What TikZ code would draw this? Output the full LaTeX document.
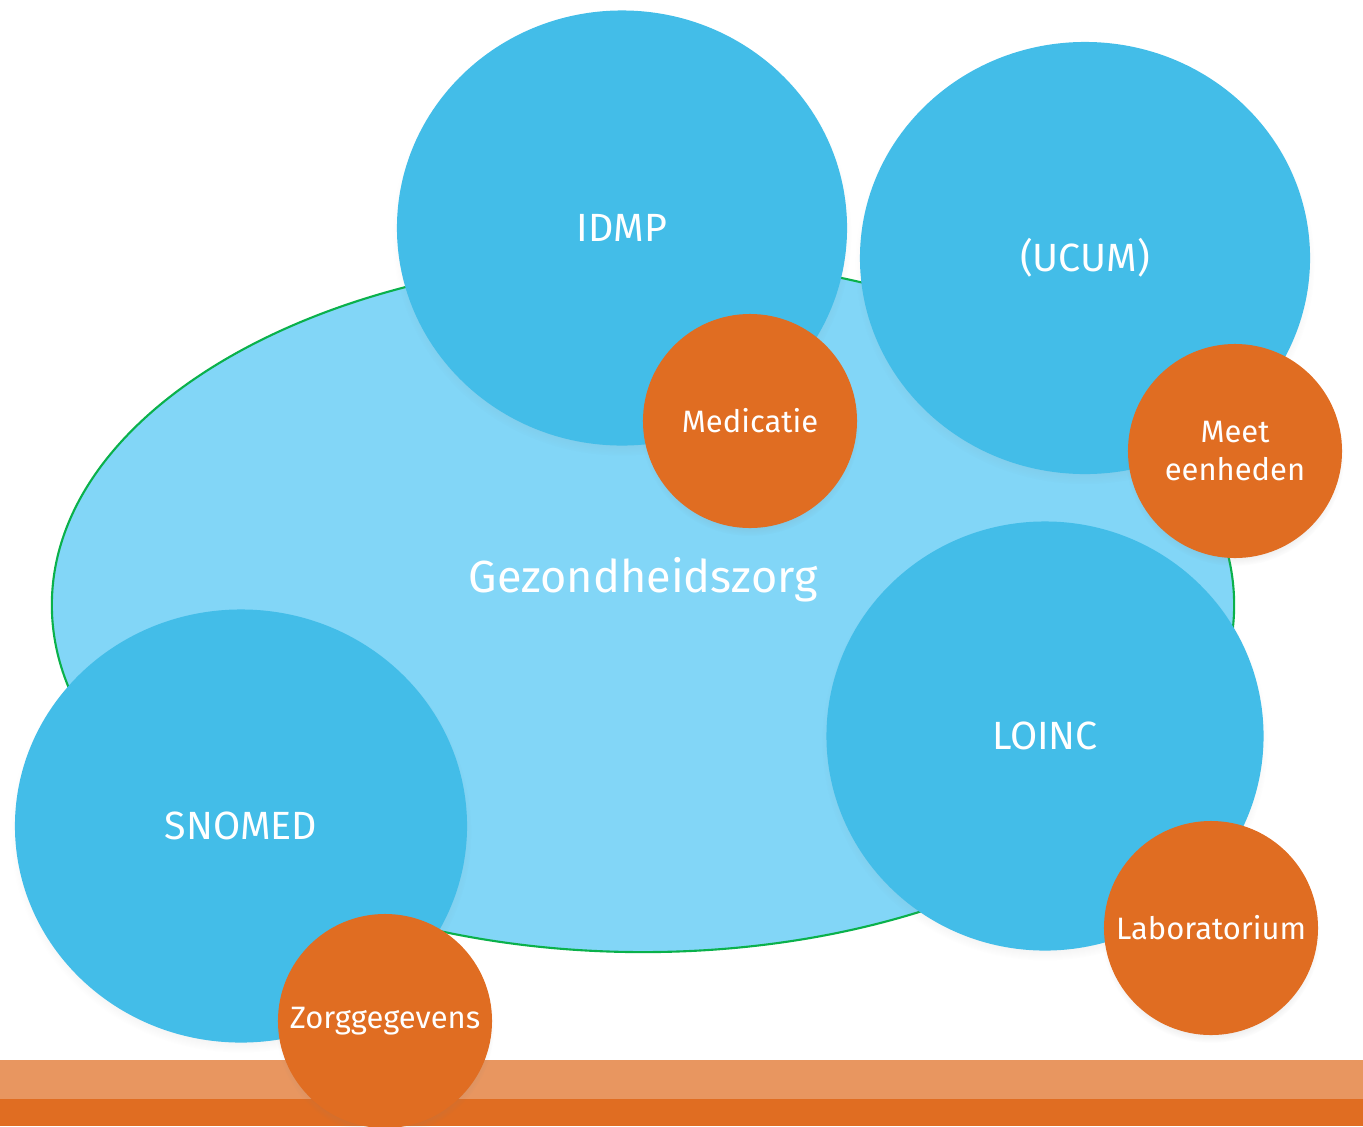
\documentclass[tikz,border=0pt]{standalone}
\usepackage{fontspec}
\setmainfont{Fira Sans}
\usetikzlibrary{shapes.geometric,shadows}

\definecolor{zorgblue}{HTML}{82D6F7}
\definecolor{stdblue}{HTML}{43BDE8}
\definecolor{domorange}{HTML}{E06D22}
\definecolor{bandorange}{HTML}{E89660}
\definecolor{zorggreen}{HTML}{0AB14B}

\begin{document}
\begin{tikzpicture}[x=0.025cm, y=-0.025cm,
    softshadow/.style={circular drop shadow={shadow xshift=0pt, shadow yshift=-4pt, shadow scale=1.02, opacity=0.25}},
    standard/.style={ellipse, fill=stdblue, text=white, inner sep=0pt, softshadow,
        font=\fontsize{28}{32}\selectfont},
    domainbubble/.style={circle, fill=domorange, text=white, minimum size=5.35cm, inner sep=0pt,
        align=center, softshadow, font=\fontsize{22}{27}\selectfont}]
    \useasboundingbox (0,0) rectangle (1363,1126);

    % healthcare field
    \node[ellipse, fill=zorgblue, draw=zorggreen, line width=1.5pt,
        minimum width=29.55cm, minimum height=17.35cm] (zorg) at (643,605) {};
    \node[text=white, font=\fontsize{32}{36}\selectfont] (zorglabel) at (643,580) {Gezondheidszorg};

    % bottom bands
    \fill[bandorange] (0,1060) rectangle (1363,1099);
    \fill[domorange] (0,1099) rectangle (1363,1126);

    % standards
    \node[standard, minimum width=11.25cm, minimum height=10.875cm] (idmp) at (622,228) {IDMP};
    \node[standard, minimum width=11.25cm, minimum height=10.8cm] (ucum) at (1085,258) {(UCUM)};
    \node[standard, minimum width=10.925cm, minimum height=10.725cm] (loinc) at (1045,736) {LOINC};
    \node[standard, minimum width=11.3cm, minimum height=10.825cm] (snomed) at (241,826) {SNOMED};

    % domains
    \node[domainbubble] (medicatie) at (750,421) {Medicatie};
    \node[domainbubble] (eenheden) at (1235,451) {Meet\\eenheden};
    \node[domainbubble] (lab) at (1211,928) {Laboratorium};
    \node[domainbubble] (zorggegevens) at (385,1021) {Zorggegevens};
\end{tikzpicture}
\end{document}
